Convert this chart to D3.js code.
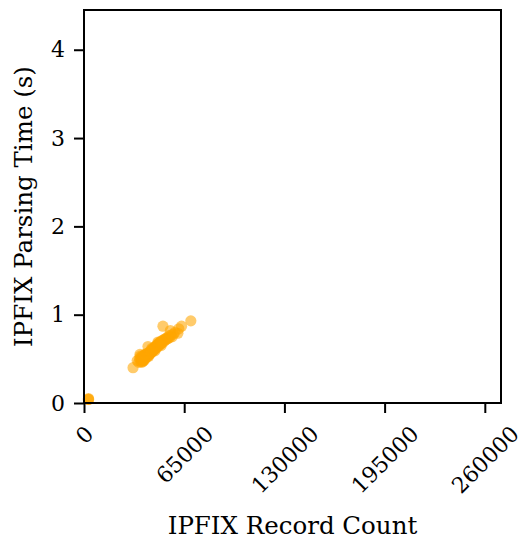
<!DOCTYPE html>
<html>
<head>
<meta charset="utf-8">
<script src="https://cdn.jsdelivr.net/npm/d3@7"></script>
<style>
  body { margin: 0; background: #fff; overflow: hidden; }
  svg { display: block; }
  text { font-family: "DejaVu Serif", serif; fill: #000; }
</style>
</head>
<body>
<div id="chart"></div>
<script>
// IPFIX record count vs parsing time
const recordCount = [
  31800, 34500, 35500, 36000, 36300, 36800, 37000, 37200, 37500, 37800,
  38000, 38200, 38500, 38800, 39000, 39200, 39500, 39800, 40000, 40300,
  40600, 40900, 41200, 41500, 41800, 42100, 42400, 42700, 43000, 43300,
  43600, 43900, 44200, 44500, 44800, 45100, 45400, 45700, 46000, 46300,
  46600, 46900, 47200, 47500, 47800, 48100, 48400, 48700, 49000, 49400,
  49800, 50200, 50600, 51000, 51200, 51500, 52000, 52500, 53000, 53500,
  54000, 54500, 55000, 55500, 56000, 56500, 57200, 58000, 59000, 60900,
  61500, 63300, 69300, 40000, 42000, 44000, 46000, 48000, 50000, 38000,
  36500, 39000, 2800, 2900, 3000
];
const parseTime = [
  0.40, 0.48, 0.46, 0.50, 0.55, 0.47, 0.49, 0.52, 0.46, 0.50,
  0.53, 0.48, 0.51, 0.49, 0.54, 0.50, 0.52, 0.55, 0.51, 0.53,
  0.56, 0.52, 0.55, 0.64, 0.54, 0.57, 0.55, 0.58, 0.56, 0.59,
  0.57, 0.60, 0.58, 0.61, 0.59, 0.62, 0.60, 0.63, 0.61, 0.64,
  0.62, 0.65, 0.63, 0.66, 0.64, 0.67, 0.65, 0.68, 0.66, 0.69,
  0.67, 0.70, 0.68, 0.71, 0.87, 0.69, 0.72, 0.71, 0.73, 0.72,
  0.74, 0.73, 0.76, 0.74, 0.82, 0.77, 0.75, 0.78, 0.80, 0.79,
  0.84, 0.87, 0.93, 0.55, 0.53, 0.62, 0.59, 0.69, 0.65, 0.47,
  0.53, 0.48, 0.04, 0.05, 0.04
];
const xTicks = [0, 65000, 130000, 195000, 260000];
const yTicks = [0, 1, 2, 3, 4];
const xDomain = [0, 270500];
const yDomain = [0, 4.45];

const data = recordCount.map((c, i) => ({ count: c, time: parseTime[i] }));

const width = 524;
const height = 540;
const margin = { top: 10, right: 23, bottom: 137, left: 84 };
const innerWidth = width - margin.left - margin.right;
const innerHeight = height - margin.top - margin.bottom;

const svg = d3.select('#chart')
  .append('svg')
  .attr('width', width)
  .attr('height', height);

const g = svg.append('g')
  .attr('transform', `translate(${margin.left},${margin.top})`);

const xScale = d3.scaleLinear().domain(xDomain).range([0, innerWidth]);
const yScale = d3.scaleLinear().domain(yDomain).range([innerHeight, 0]);

const tickFont = 22;
const labelFont = 24.5;

// points
g.selectAll('circle').data(data)
  .enter().append('circle')
    .attr('cx', d => xScale(d.count))
    .attr('cy', d => yScale(d.time))
    .attr('r', 5.6)
    .attr('fill', 'orange')
    .attr('fill-opacity', 0.58);

// y axis
const yAxisG = g.append('g')
  .call(d3.axisLeft(yScale).tickValues(yTicks).tickSize(10).tickPadding(9).tickFormat(d3.format('d')));
yAxisG.select('.domain').remove();
yAxisG.selectAll('.tick line').attr('stroke-width', 2);
yAxisG.selectAll('.tick text')
  .attr('font-size', tickFont)
  .attr('font-family', 'DejaVu Serif');

// x axis; labels turned 45deg and centred under the tick
const xAxisG = g.append('g')
  .attr('transform', `translate(0,${innerHeight})`)
  .call(d3.axisBottom(xScale).tickValues(xTicks).tickSize(10).tickFormat(d3.format('d')));
xAxisG.select('.domain').remove();
xAxisG.selectAll('.tick line').attr('stroke-width', 2);
xAxisG.selectAll('.tick text')
  .attr('font-size', tickFont)
  .attr('font-family', 'DejaVu Serif')
  .attr('text-anchor', 'middle')
  .attr('dy', '0.35em')
  .each(function () {
    const w = this.getComputedTextLength();
    const h = tickFont * 0.76;
    const cy = 21 + (w + h) * Math.SQRT1_2 / 2;
    d3.select(this)
      .attr('x', 0)
      .attr('y', cy)
      .attr('transform', `rotate(-45,0,${cy})`);
  });

// frame
g.append('rect')
  .attr('width', innerWidth)
  .attr('height', innerHeight)
  .attr('fill', 'none')
  .attr('stroke', '#000')
  .attr('stroke-width', 2);

// axis labels
svg.append('text')
  .attr('x', margin.left + innerWidth / 2)
  .attr('y', 534)
  .attr('text-anchor', 'middle')
  .attr('font-size', labelFont)
  .text('IPFIX Record Count');

svg.append('text')
  .attr('x', 0)
  .attr('y', 0)
  .attr('transform', `translate(32,${margin.top + innerHeight / 2}) rotate(-90)`)
  .attr('text-anchor', 'middle')
  .attr('font-size', labelFont)
  .text('IPFIX Parsing Time (s)');
</script>
</body>
</html>
